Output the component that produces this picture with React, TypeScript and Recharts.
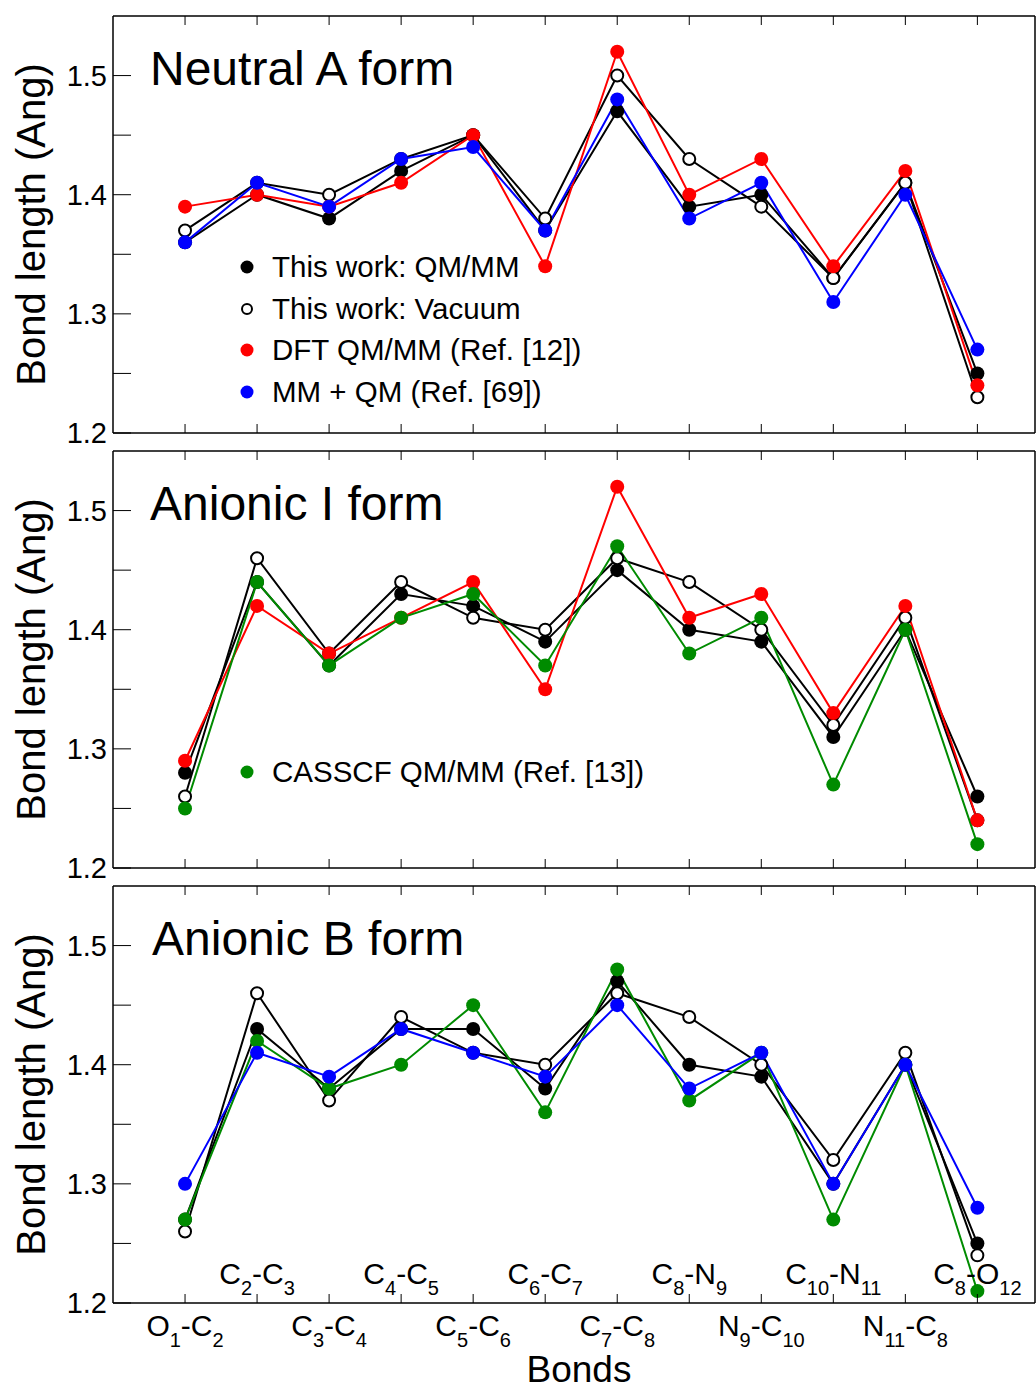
import React from "react"
import { LineChart, Line, XAxis, YAxis, Legend } from "recharts"

const FONT = '"Liberation Sans", Arial, Helvetica, sans-serif'

// bond labels: [atom, index, atom, index]
const bondLabels: [string, string, string, string][] = [
  ["O", "1", "C", "2"],
  ["C", "2", "C", "3"],
  ["C", "3", "C", "4"],
  ["C", "4", "C", "5"],
  ["C", "5", "C", "6"],
  ["C", "6", "C", "7"],
  ["C", "7", "C", "8"],
  ["C", "8", "N", "9"],
  ["N", "9", "C", "10"],
  ["C", "10", "N", "11"],
  ["N", "11", "C", "8"],
  ["C", "8", "O", "12"],
]
const positions = bondLabels.map((_, i) => i + 1)

const yTicks = [1.2, 1.25, 1.3, 1.35, 1.4, 1.45, 1.5]
const yMajor = [1.3, 1.4, 1.5]

// Neutral A form
const aQmmm = [1.36, 1.4, 1.38, 1.42, 1.45, 1.37, 1.47, 1.39, 1.4, 1.33, 1.41, 1.25]
const aVacuum = [1.37, 1.41, 1.4, 1.43, 1.45, 1.38, 1.5, 1.43, 1.39, 1.33, 1.41, 1.23]
const aDft = [1.39, 1.4, 1.39, 1.41, 1.45, 1.34, 1.52, 1.4, 1.43, 1.34, 1.42, 1.24]
const aMmqm = [1.36, 1.41, 1.39, 1.43, 1.44, 1.37, 1.48, 1.38, 1.41, 1.31, 1.4, 1.27]

// Anionic I form
const iQmmm = [1.28, 1.44, 1.37, 1.43, 1.42, 1.39, 1.45, 1.4, 1.39, 1.31, 1.4, 1.26]
const iVacuum = [1.26, 1.46, 1.38, 1.44, 1.41, 1.4, 1.46, 1.44, 1.4, 1.32, 1.41, 1.24]
const iDft = [1.29, 1.42, 1.38, 1.41, 1.44, 1.35, 1.52, 1.41, 1.43, 1.33, 1.42, 1.24]
const iCasscf = [1.25, 1.44, 1.37, 1.41, 1.43, 1.37, 1.47, 1.38, 1.41, 1.27, 1.4, 1.22]

// Anionic B form
const bQmmm = [1.27, 1.43, 1.38, 1.43, 1.43, 1.38, 1.47, 1.4, 1.39, 1.3, 1.4, 1.25]
const bVacuum = [1.26, 1.46, 1.37, 1.44, 1.41, 1.4, 1.46, 1.44, 1.4, 1.32, 1.41, 1.24]
const bCasscf = [1.27, 1.42, 1.38, 1.4, 1.45, 1.36, 1.48, 1.37, 1.41, 1.27, 1.4, 1.21]
const bMmqm = [1.3, 1.41, 1.39, 1.43, 1.41, 1.39, 1.45, 1.38, 1.41, 1.3, 1.4, 1.28]

const SERIES: Record<string, { name: string; color: string; hollow: boolean }> = {
  qmmm: { name: "This work: QM/MM", color: "#000000", hollow: false },
  vac: { name: "This work: Vacuum", color: "#000000", hollow: true },
  dft: { name: "DFT QM/MM (Ref. [12])", color: "#ff0000", hollow: false },
  mmqm: { name: "MM + QM (Ref. [69])", color: "#0000ff", hollow: false },
  cas: { name: "CASSCF QM/MM (Ref. [13])", color: "#008b00", hollow: false },
}

const rows = (cols: Record<string, number[]>) =>
  positions.map((x, i) => {
    const r: Record<string, number> = { x }
    Object.keys(cols).forEach((k) => (r[k] = cols[k][i]))
    return r
  })

const panels = [
  {
    title: "Neutral A form",
    titleX: 150,
    data: rows({ qmmm: aQmmm, vac: aVacuum, dft: aDft, mmqm: aMmqm }),
    keys: ["qmmm", "vac", "dft", "mmqm"],
    legendKeys: ["qmmm", "vac", "dft", "mmqm"],
    legendTop: 246,
  },
  {
    title: "Anionic I form",
    titleX: 150,
    data: rows({ qmmm: iQmmm, vac: iVacuum, dft: iDft, cas: iCasscf }),
    keys: ["qmmm", "vac", "dft", "cas"],
    legendKeys: ["cas"],
    legendTop: 316,
  },
  {
    title: "Anionic B form",
    titleX: 152,
    data: rows({ qmmm: bQmmm, vac: bVacuum, cas: bCasscf, mmqm: bMmqm }),
    keys: ["qmmm", "vac", "cas", "mmqm"],
    legendKeys: [] as string[],
    legendTop: 0,
  },
]

const LeftTick = (props: any) => {
  const { x, y, payload } = props
  const v = payload.value as number
  const major = Math.abs(v * 10 - Math.round(v * 10)) < 1e-6
  return (
    <g>
      <line x1={x} x2={x + 18} y1={y} y2={y} stroke="#000" strokeWidth={1} />
      {major && (
        <text x={x - 6} y={y} dy="0.36em" textAnchor="end" fontSize={29} fontFamily={FONT} fill="#000">
          {v.toFixed(1)}
        </text>
      )}
    </g>
  )
}

const RightTick = (props: any) => {
  const { x, y } = props
  return <line x1={x - 8} x2={x} y1={y} y2={y} stroke="#000" strokeWidth={1} />
}

const TopTick = (props: any) => {
  const { x, y } = props
  return <line x1={x} x2={x} y1={y} y2={y + 9} stroke="#000" strokeWidth={1} />
}

const makeBottomTick = (labels: boolean) => (props: any) => {
  const { x, y, payload } = props
  const i = (payload.value as number) - 1
  const lab = bondLabels[i]
  const upper = i % 2 === 1
  const base = upper ? y - 19 : y + 33
  return (
    <g>
      <line x1={x} x2={x} y1={y} y2={y - 9} stroke="#000" strokeWidth={1} />
      {labels && lab && (
        <text x={x} y={base} textAnchor="middle" fontFamily={FONT} fontSize={30} fill="#000">
          <tspan>{lab[0]}</tspan>
          <tspan fontSize={20} dy={11}>{lab[1]}</tspan>
          <tspan dy={-11}>-{lab[2]}</tspan>
          <tspan fontSize={20} dy={11}>{lab[3]}</tspan>
        </text>
      )}
    </g>
  )
}

const makeLegend = (keys: string[]) => (props: any) => {
  const payload = props.payload || []
  const items = keys
    .map((k) => payload.find((p: any) => p.dataKey === k))
    .filter(Boolean)
  return (
    <div style={{ fontFamily: FONT, fontSize: 29.5, color: "#000" }}>
      {items.map((p: any) => {
        const s = SERIES[p.dataKey]
        return (
          <div key={p.dataKey} style={{ display: "flex", alignItems: "center", height: 41.7, whiteSpace: "nowrap" }}>
            <svg width={14} height={14} style={{ display: "block" }}>
              {s.hollow ? (
                <circle cx={7} cy={7} r={5} fill="#fff" stroke="#000" strokeWidth={2} />
              ) : (
                <circle cx={7} cy={7} r={6.5} fill={s.color} />
              )}
            </svg>
            <span style={{ marginLeft: 18 }}>{p.value}</span>
          </div>
        )
      })}
    </div>
  )
}

function Panel({ idx }: { idx: number }) {
  const p = panels[idx]
  const last = idx === panels.length - 1
  const height = last ? 519 : 452
  return (
    <div style={{ position: "absolute", left: 0, top: idx * 435, width: 1036, height }}>
      <LineChart
        width={1036}
        height={height}
        data={p.data}
        margin={{ top: 15, right: 0, bottom: last ? 1 : 18, left: 0 }}
      >
        <XAxis
          dataKey="x"
          type="number"
          domain={[0, 12.8]}
          ticks={positions}
          interval={0}
          height={last ? 85 : 1}
          tickSize={0}
          tickMargin={0}
          tick={makeBottomTick(last)}
          axisLine={{ stroke: "#000", strokeWidth: 1.5 }}
        />
        <XAxis
          xAxisId="top"
          orientation="top"
          dataKey="x"
          type="number"
          domain={[0, 12.8]}
          ticks={positions}
          interval={0}
          height={1}
          tickSize={0}
          tickMargin={0}
          tick={TopTick}
          axisLine={{ stroke: "#000", strokeWidth: 1.5 }}
        />
        <YAxis
          type="number"
          domain={[1.2, 1.55]}
          ticks={yTicks}
          interval={0}
          width={113}
          tickSize={0}
          tickMargin={0}
          tick={LeftTick}
          axisLine={{ stroke: "#000", strokeWidth: 1.5 }}
        />
        <YAxis
          yAxisId="right"
          orientation="right"
          type="number"
          domain={[1.2, 1.55]}
          ticks={yMajor}
          interval={0}
          width={1}
          tickSize={0}
          tickMargin={0}
          tick={RightTick}
          axisLine={{ stroke: "#000", strokeWidth: 1.5 }}
        />
        {p.keys.map((k) => {
          const s = SERIES[k]
          return (
            <Line
              key={k}
              type="linear"
              dataKey={k}
              name={s.name}
              stroke={s.color}
              strokeWidth={2}
              dot={
                s.hollow
                  ? { r: 6, fill: "#ffffff", stroke: "#000000", strokeWidth: 2 }
                  : { r: 7, fill: s.color, stroke: s.color, strokeWidth: 0 }
              }
              activeDot={false}
              isAnimationActive={false}
            />
          )
        })}
        {p.legendKeys.length > 0 && (
          <Legend
            layout="vertical"
            align="center"
            verticalAlign="middle"
            content={makeLegend(p.legendKeys)}
            wrapperStyle={{ left: 240, top: p.legendTop, width: 500, height: "auto" }}
          />
        )}
      </LineChart>
      <svg
        width={1036}
        height={height}
        style={{ position: "absolute", left: 0, top: 0, pointerEvents: "none" }}
      >
        <text x={p.titleX} y={85} fontFamily={FONT} fontSize={48} fill="#000">
          {p.title}
        </text>
        <text
          x={45}
          y={224.5}
          transform="rotate(-90 45 224.5)"
          textAnchor="middle"
          fontFamily={FONT}
          fontSize={40}
          fill="#000"
        >
          Bond length (Ang)
        </text>
        {last && (
          <text x={579} y={512} textAnchor="middle" fontFamily={FONT} fontSize={37} fill="#000">
            Bonds
          </text>
        )}
      </svg>
    </div>
  )
}

export default function App() {
  return (
    <div style={{ position: "absolute", left: 0, top: 0, width: 1036, height: 1389, background: "#fff" }}>
      {panels.map((_, i) => (
        <Panel key={i} idx={i} />
      ))}
    </div>
  )
}
